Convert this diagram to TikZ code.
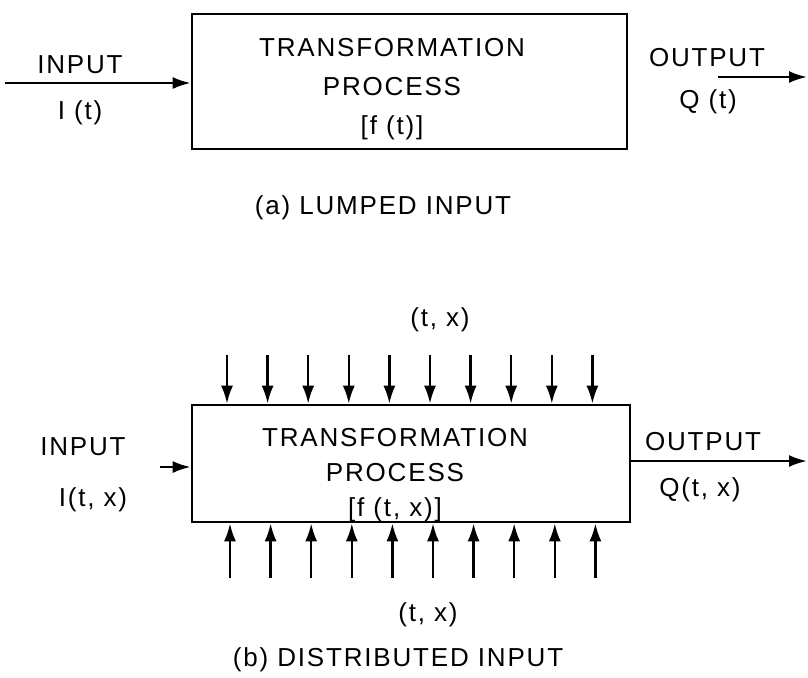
\documentclass[tikz,border=0pt]{standalone}
\usepackage{fontspec}
\setmainfont{Liberation Sans}[LetterSpace=7]
\usetikzlibrary{arrows.meta}

\begin{document}
\begin{tikzpicture}[x=0.5pt, y=-0.5pt,
    procbox/.style={draw, line width=1.3pt, inner sep=0pt},
    flow/.style={-{Latex[length=9pt,width=6pt]}, line width=1.2pt},
    lbl/.style={font=\fontsize{13}{15}\selectfont, inner sep=0pt}]
    \useasboundingbox (0,0) rectangle (808,677);

    \node[procbox, minimum width=217.5pt, minimum height=67.5pt] (proca) at (409.5,81.5) {};
    \node[lbl, align=center, font=\fontsize{13}{19.5}\selectfont] (texta) at (392,89) {TRANSFORMATION\\PROCESS\\{[f (t)]}};

    \coordinate (ina) at (5,83);
    \draw[flow] (ina) -- (ina -| proca.west);
    \node[lbl] (inlbla) at (80,65) {INPUT};
    \node[lbl] (isiga) at (80,113) {I (t)};

    \coordinate (outa0) at (718,77);
    \coordinate (outa1) at (807,77);
    \draw[flow] (outa0) -- (outa1);
    \node[lbl] (outlbla) at (707,58) {OUTPUT};
    \node[lbl] (qsiga) at (708,102) {Q (t)};

    \node[lbl] (capa) at (383,208) {(a) LUMPED INPUT};

    \node[lbl] (txtop) at (440,320) {(t, x)};
    \node[procbox, minimum width=219pt, minimum height=58.5pt] (procb) at (411,463.5) {};
    \node[lbl, align=center, font=\fontsize{13}{17.5}\selectfont] (textb) at (395,475) {TRANSFORMATION\\PROCESS\\{[f (t, x)]}};

    \foreach \i in {0,...,9} {
        \coordinate (dn\i) at (227+40.6*\i,355);
        \draw[flow] (dn\i) -- (dn\i |- procb.north);
        \coordinate (up\i) at (230+40.6*\i,578);
        \draw[flow] (up\i) -- (up\i |- procb.south);
    }

    \coordinate (inb) at (160,467);
    \draw[flow] (inb) -- (inb -| procb.west);
    \node[lbl] (inlblb) at (83,447) {INPUT};
    \node[lbl] (isigb) at (93,500) {I(t, x)};

    \coordinate (outb) at (807,461);
    \draw[flow] (procb.east |- outb) -- (outb);
    \node[lbl] (outlblb) at (703,442) {OUTPUT};
    \node[lbl] (qsigb) at (700,490) {Q(t, x)};

    \node[lbl] (txbot) at (428,615) {(t, x)};
    \node[lbl] (capb) at (398,660) {(b) DISTRIBUTED INPUT};
\end{tikzpicture}
\end{document}
